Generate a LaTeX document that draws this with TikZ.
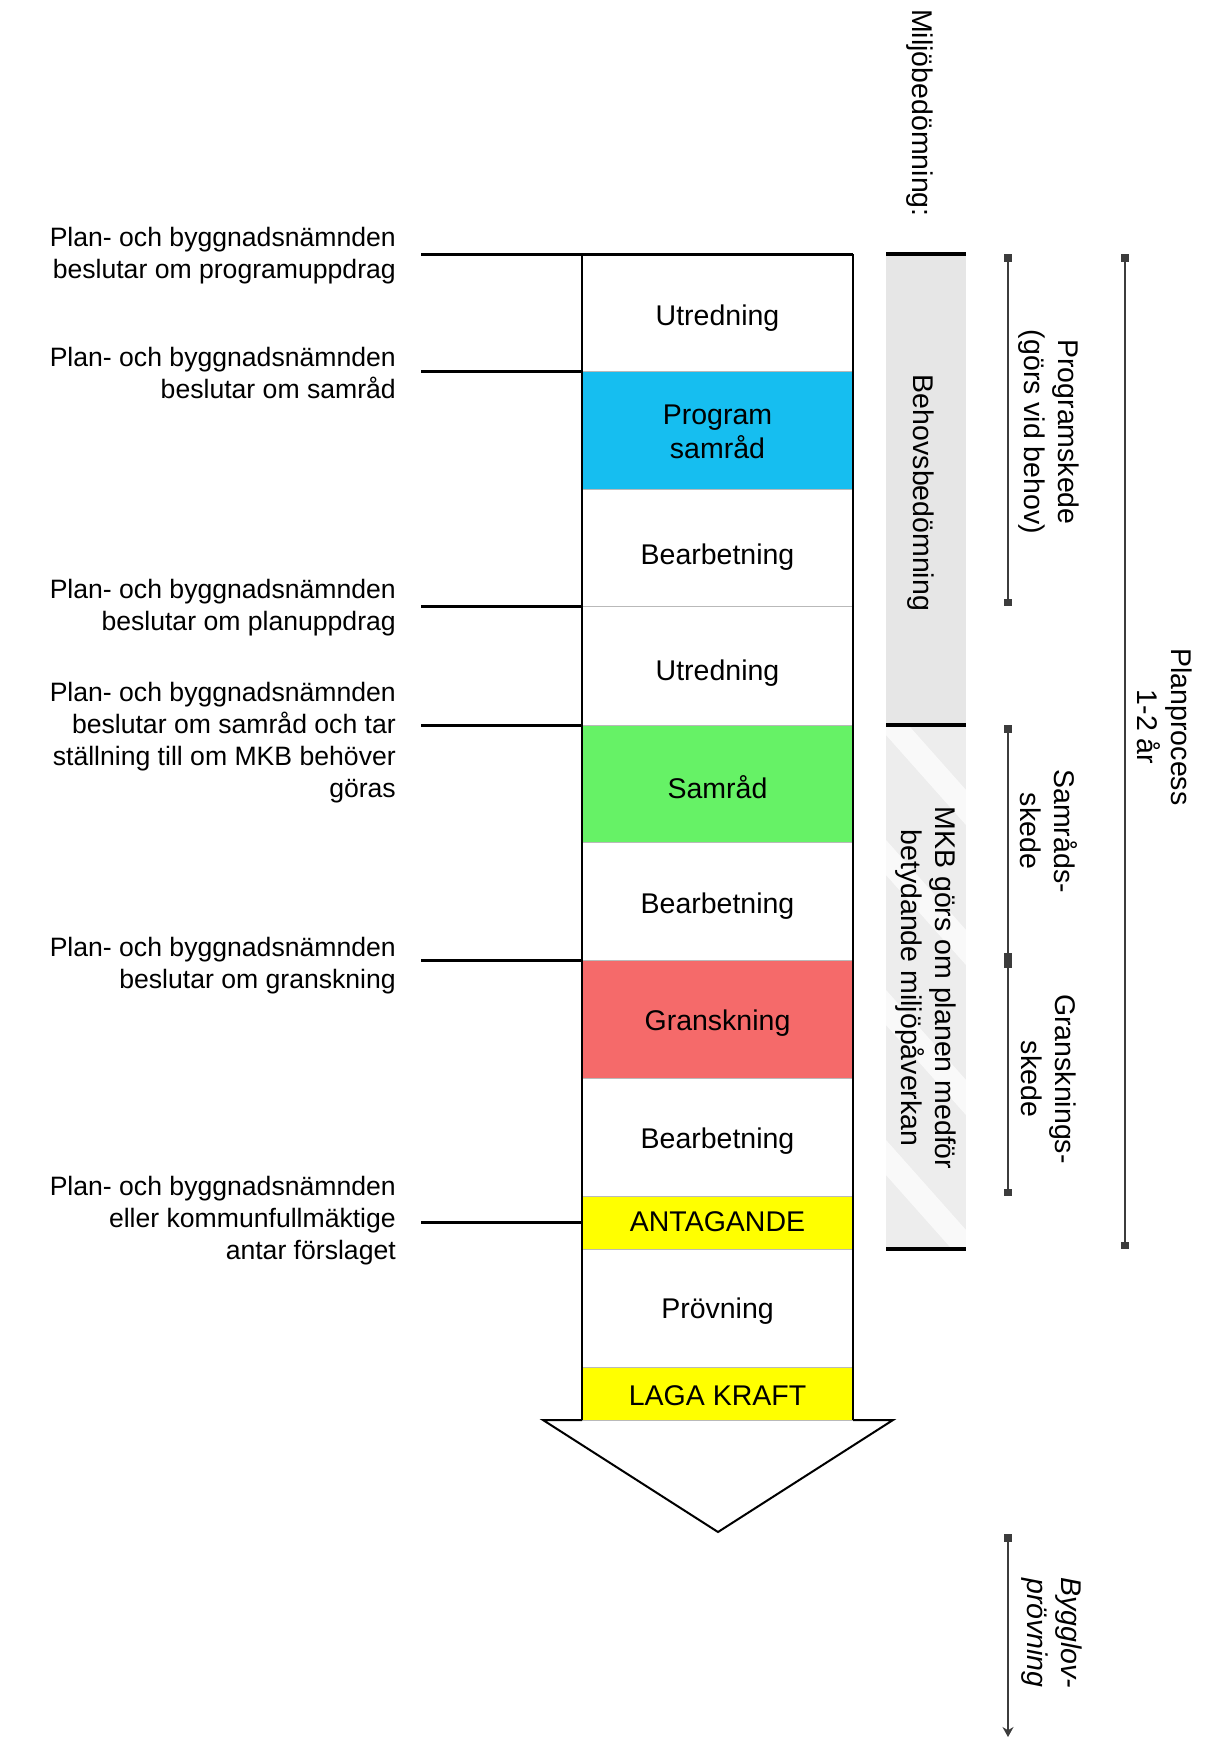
\documentclass[tikz,border=0pt]{standalone}
\usepackage{fontspec}
\setmainfont{Liberation Sans}
\usetikzlibrary{arrows.meta}
\definecolor{cyanc}{RGB}{22,190,240}
\definecolor{greenc}{RGB}{102,242,102}
\definecolor{redc}{RGB}{245,106,106}
\definecolor{yellowc}{RGB}{255,255,0}
\definecolor{bandgray}{RGB}{230,230,230}
\definecolor{spangray}{RGB}{60,60,60}
\begin{document}
\begin{tikzpicture}[x=1pt,y=-1pt,
  rowbox/.style={minimum width=271pt, inner sep=0pt, outer sep=0pt, draw=gray!55, line width=0.8pt},
  rowtext/.style={inner sep=0pt, font=\fontsize{28.5}{34}\selectfont, align=center, text=black},
  lefttext/.style={anchor=east, align=right, font=\fontsize{26.6}{32}\selectfont, inner sep=0pt},
  vtext/.style={rotate=-90, align=center, font=\fontsize{28.5}{34}\selectfont, inner sep=0pt},
  dline/.style={line width=3pt},
  colline/.style={line width=2.2pt},
  bandline/.style={line width=3.5pt},
  spanline/.style={line width=1.1pt, draw=spangray, {Square[length=7.5pt,width=7.5pt]}-{Square[length=7.5pt,width=7.5pt]}},
]
\useasboundingbox (0,0) rectangle (1210,1737);
\fill[white] (0,0) rectangle (1210,1737);

% ---- main column rows ----
\node[rowbox, minimum height=117pt, fill=white]   (r1)  at (717.5,312.5)  {};
\node[rowbox, minimum height=118pt, fill=cyanc]   (r2)  at (717.5,430)    {};
\node[rowbox, minimum height=117pt, fill=white]   (r3)  at (717.5,547.5)  {};
\node[rowbox, minimum height=119pt, fill=white]   (r4)  at (717.5,665.5)  {};
\node[rowbox, minimum height=117pt, fill=greenc]  (r5)  at (717.5,783.5)  {};
\node[rowbox, minimum height=118pt, fill=white]   (r6)  at (717.5,901)    {};
\node[rowbox, minimum height=118pt, fill=redc]    (r7)  at (717.5,1019)   {};
\node[rowbox, minimum height=118pt, fill=white]   (r8)  at (717.5,1137)   {};
\node[rowbox, minimum height=53pt,  fill=yellowc] (r9)  at (717.5,1222.5) {};
\node[rowbox, minimum height=118pt, fill=white]   (r10) at (717.5,1308)   {};
\node[rowbox, minimum height=53pt,  fill=yellowc] (r11) at (717.5,1393.5) {};

\node[rowtext] (t1)  at (717.5,318)    {Utredning};
\node[rowtext] (t2)  at (717.5,432)    {Program\\samråd};
\node[rowtext] (t3)  at (717.5,557)    {Bearbetning};
\node[rowtext] (t4)  at (717.5,673)    {Utredning};
\node[rowtext] (t5)  at (717.5,787)    {Samråd};
\node[rowtext] (t6)  at (717.5,906.5)  {Bearbetning};
\node[rowtext] (t7)  at (717.5,1023.5) {Granskning};
\node[rowtext] (t8)  at (717.5,1141.5) {Bearbetning};
\node[rowtext] (t9)  at (717.5,1221.5) {ANTAGANDE};
\node[rowtext] (t10) at (717.5,1311)   {Prövning};
\node[rowtext] (t11) at (717.5,1395.5) {LAGA KRAFT};

% column outline
\draw[colline] (r1.north west) -- (r11.south west);
\draw[colline] (r1.north east) -- (r11.south east);

% arrow head
\coordinate (al) at (543,1420);
\coordinate (ar) at (893,1420);
\coordinate (at) at (718,1532);
\draw[line width=2pt, line join=miter] (r11.south west) -- (al) -- (at) -- (ar) -- (r11.south east);

% ---- decision lines on the left ----
\coordinate (d1) at (421,254);
\coordinate (d2) at (421,371);
\coordinate (d3) at (421,606);
\coordinate (d4) at (421,725);
\coordinate (d5) at (421,960);
\coordinate (d6) at (421,1222.5);
\draw[dline] (d1) -- (r1.north east);
\draw[dline] (d2) -- (r2.north west);
\draw[dline] (d3) -- (r4.north west);
\draw[dline] (d4) -- (r5.north west);
\draw[dline] (d5) -- (r7.north west);
\draw[dline] (d6) -- (r9.west);

\node[lefttext] (l1) at (396,256) {Plan- och byggnadsnämnden\\beslutar om programuppdrag};
\node[lefttext] (l2) at (396,373) {Plan- och byggnadsnämnden\\beslutar om samråd};
\node[lefttext] (l3) at (396,608) {Plan- och byggnadsnämnden\\beslutar om planuppdrag};
\node[lefttext] (l4) at (396,743) {Plan- och byggnadsnämnden\\beslutar om samråd och tar\\ställning till om MKB behöver\\göras};
\node[lefttext] (l5) at (396,966) {Plan- och byggnadsnämnden\\beslutar om granskning};
\node[lefttext] (l6) at (396,1221) {Plan- och byggnadsnämnden\\eller kommunfullmäktige\\antar förslaget};

% ---- environmental assessment band ----
\fill[bandgray] (886,254) rectangle (966,725);
\fill[gray!14] (886,725) rectangle (966,1249);
\begin{scope}
  \clip (886,725) rectangle (966,1249);
  \foreach \s in {700,840,990,1140} {
    \fill[white, opacity=0.7] (886,\s) -- (886,\s+35) -- (966,\s+125) -- (966,\s+90) -- cycle;
  }
\end{scope}
\draw[bandline] (886,254) -- (966,254);
\draw[bandline] (886,725) -- (966,725);
\draw[bandline] (886,1249) -- (966,1249);

\node[vtext, anchor=west] (mb) at (920,9) {Miljöbedömning:};
\node[vtext] (beh) at (921,493) {Behovsbedömning};
\node[vtext] (mkb) at (926,988) {MKB görs om planen medför\\betydande miljöpåverkan};

% ---- span lines ----
\coordinate (p1) at (1008,254);
\coordinate (p2) at (1008,606);
\coordinate (p3) at (1008,725);
\coordinate (p4) at (1008,960);
\coordinate (p5) at (1008,1196);
\coordinate (q1) at (1125,254);
\coordinate (q2) at (1125,1249);
\coordinate (b1) at (1008,1534);
\coordinate (b2) at (1008,1737);
\draw[spanline] (p1) -- (p2);
\draw[spanline] (p3) -- (p4);
\draw[spanline] (p4) -- (p5);
\draw[spanline] (q1) -- (q2);
\draw[line width=1.1pt, draw=spangray, {Square[length=7.5pt,width=7.5pt]}-{Stealth[length=10pt,width=11pt]}] (b1) -- (b2);

\node[vtext] (prog) at (1049,432) {Programskede\\(görs vid behov)};
\node[vtext] (sam) at (1049,831) {Samråds-\\skede};
\node[vtext] (gra) at (1049,1079) {Gransknings-\\skede};
\node[vtext] (plan) at (1165,727) {Planprocess\\1-2 år};
\node[vtext, font=\fontsize{28.5}{34}\selectfont\itshape] (byg) at (1052,1633) {Bygglov-\\prövning};
\end{tikzpicture}
\end{document}
